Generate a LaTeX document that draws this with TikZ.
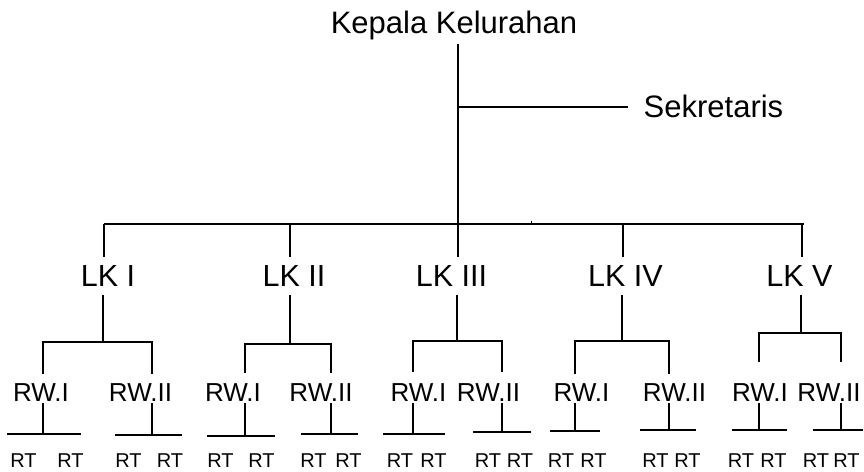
\documentclass[tikz,border=0pt]{standalone}
\usepackage{fontspec}
\setmainfont{Liberation Sans}
\begin{document}
\begin{tikzpicture}[x=1pt,y=-1pt,line width=1.4pt,
  txt/.style={anchor=base,inner sep=0pt},
  big/.style={txt,font=\fontsize{31}{31}\selectfont},
  lk/.style={txt,font=\fontsize{30.5}{31}\selectfont},
  rw/.style={txt,font=\fontsize{26}{26}\selectfont},
  rt/.style={txt,font=\fontsize{20}{20}\selectfont}]
\useasboundingbox (0,0) rectangle (864,471);

% top
\node[big] (kepala) at (454,33) {Kepala Kelurahan};
\node[big,anchor=base west] (sek) at (643,117) {Sekretaris};
\coordinate (k0) at (458,44);
\coordinate (kS) at (458,107);
\coordinate (kB) at (458,224);
\coordinate (sE) at (628,107);
\draw (k0) -- (kB);
\draw (kS) -- (sE);

% main bar
\coordinate (bL) at (104,224);
\coordinate (bR) at (804,224);
\draw (bL) -- (bR);
\coordinate (tk1) at (531,220.5);
\coordinate (tk2) at (531,224);
\draw[line width=1pt] (tk1) -- (tk2);

% LK level
\foreach \i/\x/\lx/\lab in {1/104/108/LK I,2/290/294/LK II,3/458/451.5/LK III,4/623/625.5/LK IV,5/802/799.5/LK V}{
  \node[lk] (lk\i) at (\lx,286) {\lab};
  \coordinate (lt\i) at (\x,224);
  \coordinate (lb\i) at (\x,257);
  \draw (lt\i) -- (lb\i);
}

% below LK: bars to RW
\foreach \i/\x/\by/\l/\r/\e in {1/103/342/43/152/374,2/290/344/245/331/373,3/457/341/413/502/372,4/622/341/575/669/374,5/801/333/759/841/362}{
  \coordinate (ls\i) at (\x,295);
  \coordinate (lj\i) at (\x,\by);
  \coordinate (la\i) at (\l,\by);
  \coordinate (lr\i) at (\r,\by);
  \coordinate (ea\i) at (\l,\e);
  \coordinate (er\i) at (\r,\e);
  \draw (ls\i) -- (lj\i);
  \draw (ea\i) -- (la\i) -- (lr\i) -- (er\i);
}

% RW nodes
\foreach \n/\x/\lab in {1a/41/RW.I,1b/140.5/RW.II,2a/233/RW.I,2b/321/RW.II,3a/418.5/RW.I,3b/488.5/RW.II,4a/581.5/RW.I,4b/674.5/RW.II,5a/760/RW.I,5b/829/RW.II}{
  \node[rw] (rw\n) at (\x,401) {\lab};
}

% below RW: bars over RT
\foreach \n/\x/\by/\l/\r in {1a/43/434/7/81,1b/152/435/115/182,2a/245/436/207/275,2b/331/434/301/358,3a/413/434/383/445,3b/502/432/473/531,4a/575/431/550/600,4b/669/430/640/696,5a/759/430/732/787,5b/841/430/813/863}{
  \coordinate (rs\n) at (\x,403);
  \coordinate (rj\n) at (\x,\by);
  \coordinate (rl\n) at (\l,\by);
  \coordinate (rr\n) at (\r,\by);
  \draw (rs\n) -- (rj\n);
  \draw (rl\n) -- (rr\n);
}

% RT nodes
\foreach \n/\a/\b in {1a/23.5/70.5,1b/128.5/170,2a/220.5/261.5,2b/313.5/348.5,3a/400/433.5,3b/488/520,4a/561/593.5,4b/655.5/687.5,5a/741/773.5,5b/816/846.5}{
  \node[rt] (rt\n l) at (\a,467) {RT};
  \node[rt] (rt\n r) at (\b,467) {RT};
}
\end{tikzpicture}
\end{document}
